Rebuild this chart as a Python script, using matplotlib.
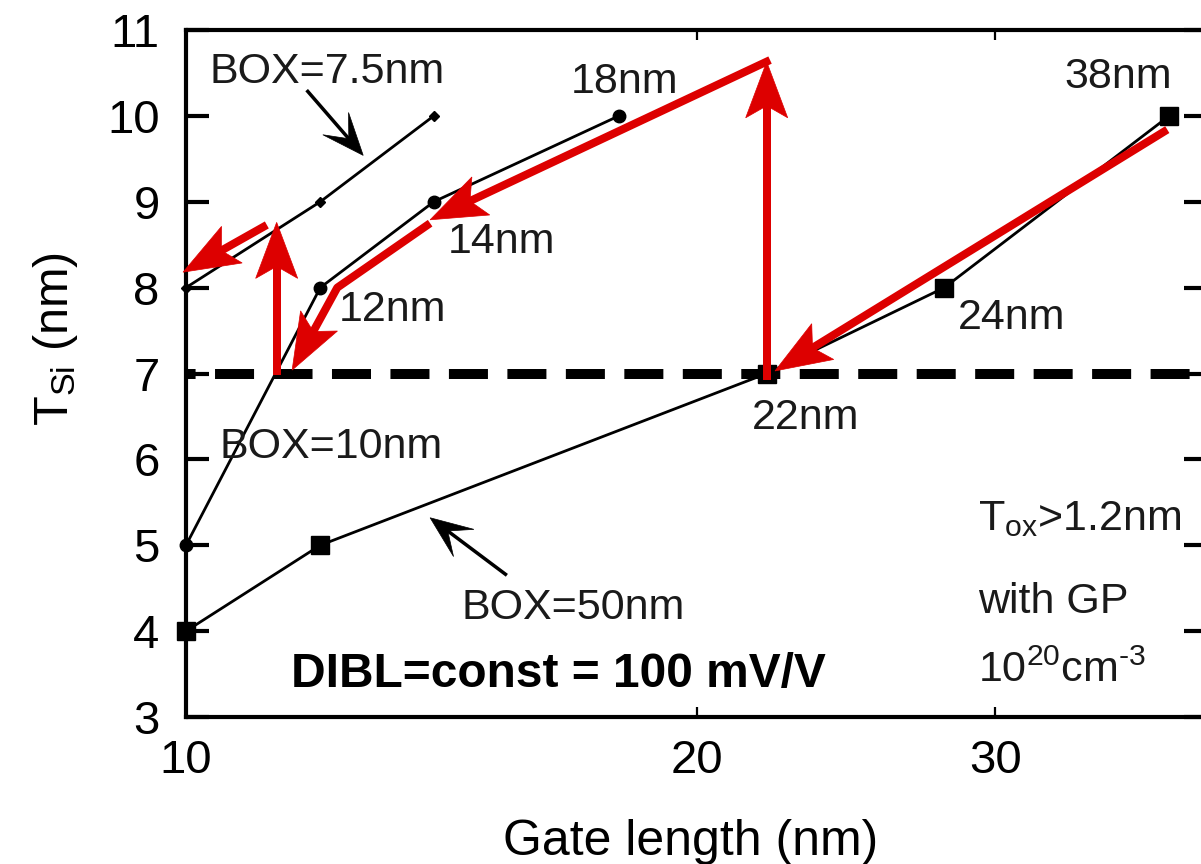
import numpy as np
import matplotlib
matplotlib.use("Agg")
import matplotlib.pyplot as plt
from matplotlib.lines import Line2D
from matplotlib.patches import Polygon
from matplotlib.transforms import IdentityTransform
from matplotlib.ticker import FixedLocator, FixedFormatter, NullLocator

plt.rcParams['font.family'] = ['Liberation Sans', 'DejaVu Sans']
plt.rcParams['mathtext.fontset'] = 'custom'
plt.rcParams['mathtext.rm'] = 'Liberation Sans'
plt.rcParams['mathtext.it'] = 'Liberation Sans:italic'
plt.rcParams['mathtext.bf'] = 'Liberation Sans:bold'
plt.rcParams['lines.scale_dashes'] = False

# ---------------- data ----------------
box75_L = [10, 12, 14]
box75_T = [8, 9, 10]
box10_L = [10, 12, 14, 18]
box10_T = [5, 8, 9, 10]
box50_L = [10, 12, 22, 28, 38]
box50_T = [4, 5, 7, 8, 10]
tsi_limit = 7

x_ticks = [10, 20, 30]
x_ticklabels = ["10", "20", "30"]
y_ticks = [3, 4, 5, 6, 7, 8, 9, 10, 11]

# red scaling arrows (gate length, Tsi) paths, head at the last point
red_L = [[37.9, 22.25], [22.0, 22.0], [22.1, 13.93],
         [13.93, 12.28, 11.55], [11.31, 11.31], [11.16, 9.96]]
red_T = [[9.84, 7.03], [6.93, 10.63], [10.65, 8.79],
         [8.75, 8.0, 7.04], [6.98, 8.76], [8.73, 8.18]]

# black annotation arrows
blk_L = [[11.78, 12.72], [15.46, 13.93]]
blk_T = [[10.30, 9.54], [4.65, 5.32]]

node_labels = ["18nm", "14nm", "12nm", "38nm", "24nm", "22nm"]
node_label_L = [18.15, 15.34, 13.23, 35.44, 30.69, 23.2]
node_label_T = [10.39, 8.53, 7.74, 10.45, 7.65, 6.48]

box_labels = ["BOX=7.5nm", "BOX=10nm", "BOX=50nm"]
box_label_L = [12.11, 12.18, 16.91]
box_label_T = [10.51, 6.14, 4.27]

cond_lines = [r"T$_{\mathrm{ox}}$>1.2nm", "with GP", "10$^{20}$cm$^{\u2010 3}$"]
cond_L = 29.3
cond_T = [5.18, 4.21, 3.41]

dibl_text = "DIBL=const = 100 mV/V"
dibl_L, dibl_T = 16.59, 3.49

RED = "#DD0000"
TXT = "#1a1a1a"

# ---------------- figure ----------------
fig = plt.figure(figsize=(12.01, 8.64), dpi=100)
W, H = 1201, 864
ax = fig.add_axes([186 / W, (H - 717) / H, (1207 - 186) / W, (717 - 30) / H])
ax.set_xscale('log')
ax.set_xlim(10, 40)
ax.set_ylim(3, 11)

ax.xaxis.set_major_locator(FixedLocator(x_ticks))
ax.xaxis.set_major_formatter(FixedFormatter(x_ticklabels))
ax.xaxis.set_minor_locator(NullLocator())
ax.yaxis.set_major_locator(FixedLocator(y_ticks))
ax.yaxis.set_minor_locator(NullLocator())

for s in ax.spines.values():
    s.set_linewidth(3)
ax.tick_params(axis='y', which='major', direction='in', length=16.5, width=3,
               left=True, right=True, labelsize=34, pad=19)
ax.tick_params(axis='x', which='major', direction='in', length=7, width=1.6,
               top=True, bottom=True, labelsize=34, pad=16)

ax.set_xlabel("Gate length (nm)", fontsize=36)
ax.xaxis.set_label_coords(0.4946, -0.148)
ax.set_ylabel(r"T$_{\mathrm{Si}}$ (nm)", fontsize=35)
ax.yaxis.set_label_coords(-0.104, 0.551)

# dashed Tsi limit
ax.axhline(tsi_limit, color='black', lw=7.2, linestyle=(21.2, (28.1, 14.0)),
           zorder=2)

# data series
ax.plot(box75_L, box75_T, color='black', lw=2, marker='D', ms=5, zorder=3, clip_on=False)
ax.plot(box10_L, box10_T, color='black', lw=2, marker='o', ms=9, zorder=3, clip_on=False)
ax.plot(box50_L, box50_T, color='black', lw=2, marker='s', ms=13, zorder=3, clip_on=False)

# texts
for s, x, y in zip(node_labels, node_label_L, node_label_T):
    ax.text(x, y, s, fontsize=31, color=TXT, ha='center', va='center')
for s, x, y in zip(box_labels, box_label_L, box_label_T):
    ax.text(x, y, s, fontsize=31, color=TXT, ha='center', va='center')
for s, y in zip(cond_lines, cond_T):
    ax.text(cond_L, y, s, fontsize=31, color=TXT, ha='left', va='baseline')
ax.text(dibl_L, dibl_T, dibl_text, fontsize=34.5, fontweight='bold', color='black',
        ha='center', va='center')


def draw_arrow(xs, ys, color, lw_px, head_len, head_w, notch, z):
    P = ax.transData.transform(np.column_stack([xs, ys]))
    tip = P[-1]
    d = tip - P[-2]
    d = d / np.hypot(*d)
    n = np.array([-d[1], d[0]])
    base = tip - d * head_len
    left = base + n * head_w / 2
    right = base - n * head_w / 2
    nt = tip - d * (head_len - notch)
    shaft = P.copy()
    shaft[-1] = nt + d * 2
    ln = Line2D(shaft[:, 0], shaft[:, 1], transform=IdentityTransform(),
                color=color, lw=lw_px * 0.72, solid_capstyle='butt',
                solid_joinstyle='round', zorder=z)
    fig.add_artist(ln)
    poly = Polygon([tip, left, nt, right], closed=True, transform=IdentityTransform(),
                   facecolor=color, edgecolor=color, lw=0.5, zorder=z)
    fig.add_artist(poly)


for xs, ys in zip(blk_L, blk_T):
    draw_arrow(xs, ys, 'black', 3.5, 42, 34, 20, 4)
for xs, ys in zip(red_L, red_T):
    draw_arrow(xs, ys, RED, 8, 56, 42, 12, 5)

fig.savefig("out.png", dpi=100)
